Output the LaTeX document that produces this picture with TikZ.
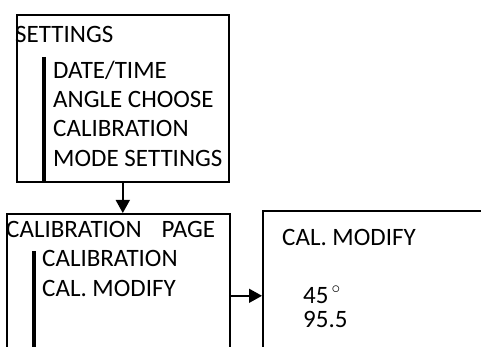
\documentclass[tikz,border=0pt]{standalone}
\usepackage{fontspec}
\setmainfont{Carlito}
\usetikzlibrary{arrows.meta,positioning}

\tikzset{
	box/.style={draw,line width=1.6pt,anchor=north west,inner sep=0pt},
	item/.style={anchor=base west,inner sep=0pt,font=\fontsize{25}{30}\selectfont},
	bar/.style={line width=3.2pt},
	pfeil/.style={line width=1.6pt,-{Triangle[width=14pt,length=13pt]}}
}

\begin{document}
\begin{tikzpicture}[x=1pt,y=-1pt]
	\useasboundingbox (0,0) rectangle (481,347);
	\clip (0,0) rectangle (481,347);
	% Kaesten
		\node (settings) at (16,14)  [box,minimum width=212pt,minimum height=167pt] {};
		\node (calpage)  at (6,213)  [box,minimum width=223pt,minimum height=200pt] {};
		\node (modify)   at (262,210) [box,minimum width=240pt,minimum height=170pt] {};
	% Texte
		\node (t0) at (15,43)    [item] {SETTINGS};
		\node (t1) at (53,79)    [item] {DATE/TIME};
		\node (t2) at (53,108)   [item] {ANGLE CHOOSE};
		\node (t3) at (53,137)   [item] {CALIBRATION};
		\node (t4) at (53,166.5) [item] {MODE SETTINGS};
		\node (c0) at (6,237.5)  [item] {CALIBRATION\hspace{20pt}PAGE};
		\node (c1) at (42,266.5) [item] {CALIBRATION};
		\node (c2) at (42,296)   [item] {CAL. MODIFY};
		\node (m0) at (282,245)  [item] {CAL. MODIFY};
		\node (m1) at (303,303)  [item] {45\hspace{3pt}$^{\circ}$};
		\node (m2) at (303,327)  [item] {95.5};
	% Balken
		\coordinate (b1) at (44,57);
		\coordinate (b2) at (34,251);
		\draw[bar] (b1) -- (b1 |- settings.south);
		\draw[bar] (b2) -- (b2 |- calpage.south);
	% Pfeile
		\draw[pfeil] (settings.south) -- (settings.south |- calpage.north);
		\draw[pfeil] (calpage.east |- modify.west) -- (modify.west);
\end{tikzpicture}
\end{document}
